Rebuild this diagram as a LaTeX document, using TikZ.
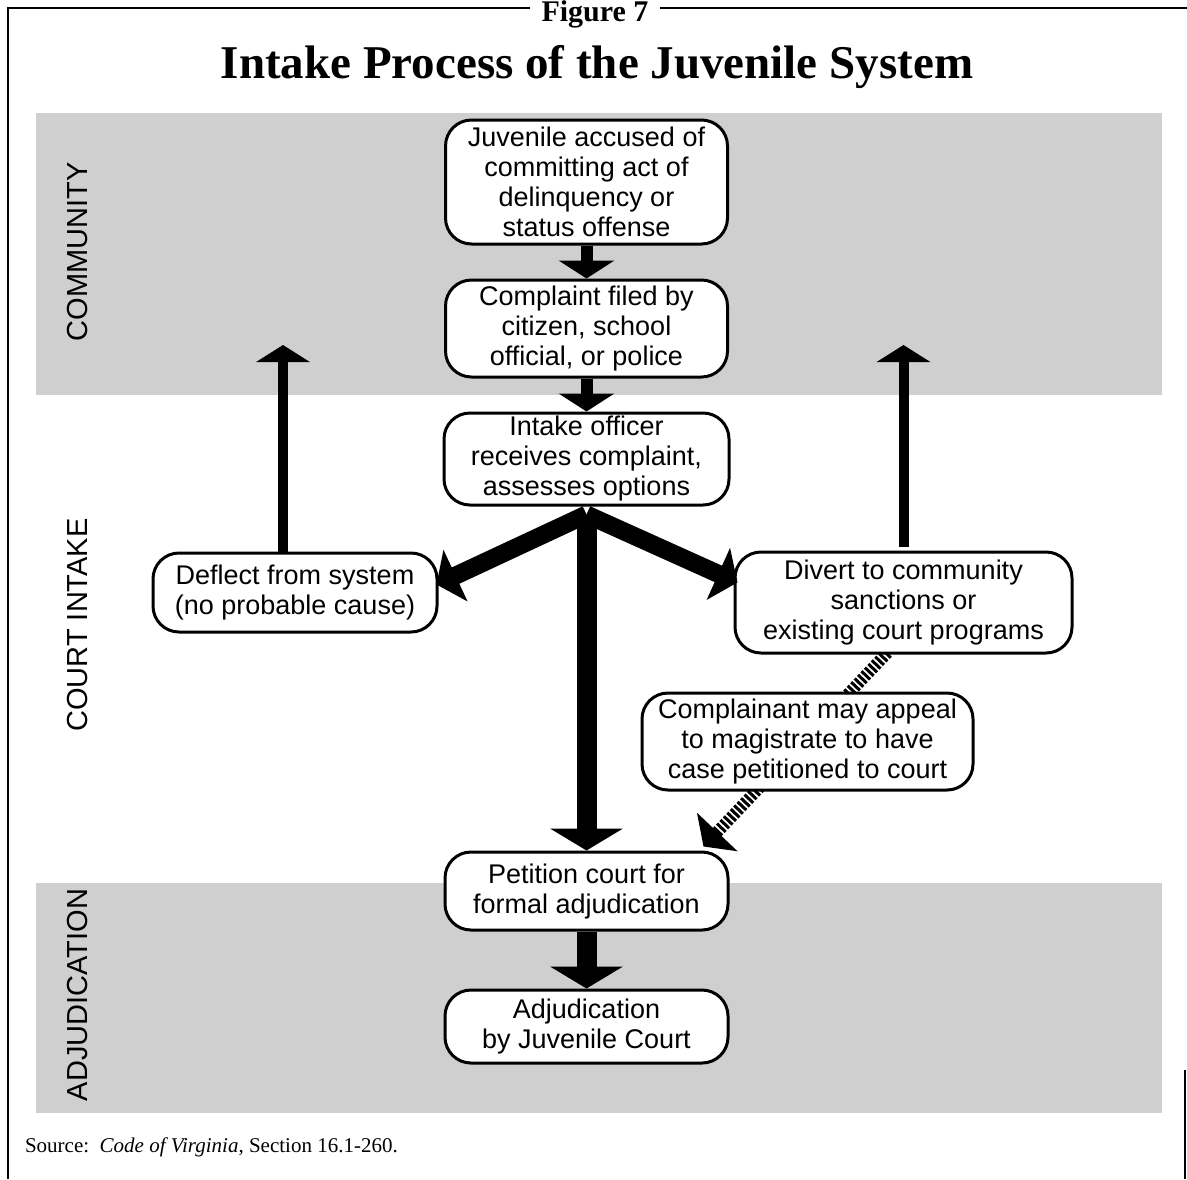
\documentclass[tikz,border=0pt]{standalone}
\usepackage{fontspec}
\setmainfont{Liberation Serif}
\newfontfamily\boxfont{Liberation Sans}
\usetikzlibrary{arrows.meta,calc}
\pgfdeclarelayer{back}
\pgfdeclarelayer{mid}
\pgfsetlayers{back,mid,main}
\begin{document}
\begin{tikzpicture}[x=0.5pt,y=-0.5pt,
  box/.style={draw, line width=1.5pt, rounded corners=13pt, fill=white, align=center,
    inner sep=0pt, font=\boxfont\fontsize{13.5}{15}\selectfont},
  band/.style={fill=black!19, draw=none},
  lane/.style={rotate=90, font=\boxfont\fontsize{14.5}{16}\selectfont},
  frame/.style={line width=1.4pt, draw=black},
  smallarrow/.style={line width=6pt, -{Triangle[length=9pt,width=27.5pt]}},
  uparrow/.style={line width=5pt, -{Triangle[length=8.5pt,width=26.5pt]}},
  mainarrow/.style={line width=10pt, -{Triangle[length=11pt,width=36pt]}},
  diagarrow/.style={line width=9pt, -{Triangle[length=10.5pt,width=28pt]}},
  hatcharrow/.style={line width=6pt, dash pattern=on 1.5pt off 1pt, -{Triangle[length=10pt,width=27.5pt]}}
]
\useasboundingbox (0,0) rectangle (1187,1179);

% frame
\draw[frame] (8,1179) -- (8,8) -- (530,8);
\draw[frame] (660,8) -- (1187,8);
\draw[frame] (1185,1070) -- (1185,1179);
\node[anchor=base, font=\bfseries\fontsize{15}{17}\selectfont] (fig) at (595,21) {Figure 7};
\node[font=\bfseries\fontsize{23.5}{28}\selectfont] (title) at (597,67) {Intake Process of the Juvenile System};

% bands
\begin{pgfonlayer}{back}
\fill[band] (36,113) rectangle (1162,395);
\fill[band] (36,883) rectangle (1162,1113);
\end{pgfonlayer}

\node[lane] (lcom) at (78,252) {COMMUNITY};
\node[lane] (lcourt) at (78,625) {COURT INTAKE};
\node[lane] (ladj) at (78,995) {ADJUDICATION};

% boxes
\node[box, minimum width=141pt, minimum height=62pt] (juv) at (586.5,182)
  {Juvenile accused of\\committing act of\\delinquency or\\status offense};
\node[box, minimum width=141pt, minimum height=48.5pt] (comp) at (586.5,328.5)
  {Complaint filed by\\citizen, school\\official, or police};
\node[box, minimum width=142.5pt, minimum height=46pt] (intake) at (586.5,459)
  {Intake officer\\receives complaint,\\assesses options};
\node[box, minimum width=142pt, minimum height=39.5pt] (deflect) at (295,592.5)
  {Deflect from system\\(no probable cause)};
\node[box, minimum width=168.5pt, minimum height=50.5pt] (divert) at (903.5,602.5)
  {Divert to community\\sanctions or\\existing court programs};
\node[box, minimum width=165.5pt, minimum height=48.5pt] (compl) at (807.5,741.5)
  {Complainant may appeal\\to magistrate to have\\case petitioned to court};
\node[box, minimum width=141.5pt, minimum height=39pt] (pet) at (586.5,891)
  {Petition court for\\formal adjudication};
\node[box, minimum width=141.5pt, minimum height=36.5pt] (adj) at (586.5,1026.5)
  {Adjudication\\by Juvenile Court};

\node[anchor=base west, font=\fontsize{10.5}{12}\selectfont] (src) at (18,1152)
  {Source:\ \ \textit{Code of Virginia}, Section 16.1-260.};

% connectors
\coordinate (up1) at (283,345);
\coordinate (up2) at (903.5,345);
\coordinate (hatchend) at ($(pet.north east)+(-26,-4)$);

\draw[smallarrow] (juv.south) -- (comp.north);
\draw[smallarrow] (comp.south) -- (intake.north);
\draw[mainarrow] ([yshift=-4]intake.south) -- (pet.north);
\draw[diagarrow] ([yshift=-4]intake.south) -- ($(deflect.east)+(-2,-8)$);
\draw[diagarrow] ([yshift=-4]intake.south) -- ($(divert.west)+(4,-20)$);
\draw[uparrow] ($(deflect.north)+(-12,2)$) -- (up1);
\draw[uparrow] ([yshift=2]divert.north) -- (up2);
\draw[mainarrow] (pet.south) -- (adj.north);
\begin{pgfonlayer}{mid}
\draw[hatcharrow] ($(divert.south)+(-16,-2)$) -- (hatchend);
\end{pgfonlayer}
\end{tikzpicture}
\end{document}
